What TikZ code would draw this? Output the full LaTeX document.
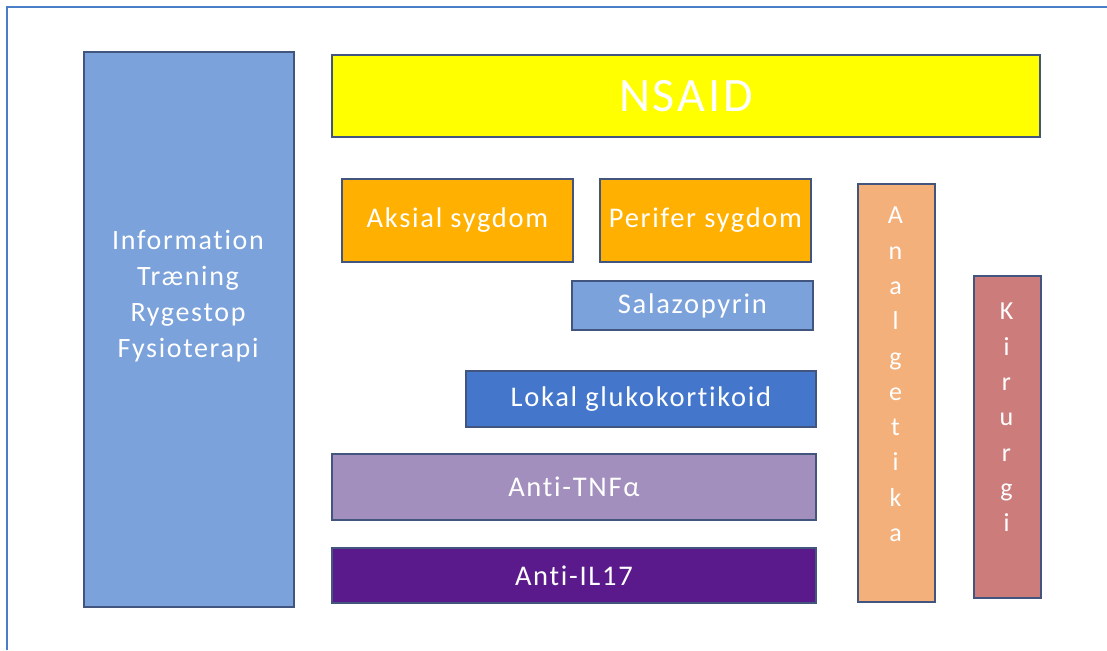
\documentclass[tikz,border=0pt]{standalone}
\usepackage{fontspec}
\setmainfont[LetterSpace=6,Ligatures=NoCommon]{Carlito}
\definecolor{edgeblue}{HTML}{41557F}
\definecolor{framecol}{HTML}{4A7FC8}
\definecolor{infoblue}{HTML}{7BA2DA}
\definecolor{nsaidyel}{HTML}{FFFF00}
\definecolor{amber}{HTML}{FFB000}
\definecolor{lokalblue}{HTML}{4477CC}
\definecolor{tnfpurple}{HTML}{A38FBD}
\definecolor{ilpurple}{HTML}{5B1A8B}
\definecolor{analgorange}{HTML}{F4B07B}
\definecolor{kirred}{HTML}{CD7C7C}
\begin{document}
\begin{tikzpicture}[x=1pt,y=-1pt,
  box/.style={draw=edgeblue, line width=1.8pt, rectangle, anchor=north west,
    inner sep=0pt, text=white, font=\fontsize{28.5}{32}\selectfont},
  label/.style={text=white, inner sep=0pt, align=center},
  vlabel/.style={label, anchor=north, font=\fontsize{26}{35.3}\selectfont}]
  \useasboundingbox (0,0) rectangle (1107,650);
  % open outer frame
  \draw[framecol, line width=1.8pt] (7,650) -- (7,7) -- (1107,7);

  % left column
  \node[box, fill=infoblue, minimum width=210, minimum height=555] (info) at (83,51) {};
  \node[label, anchor=north, font=\fontsize{28}{36}\selectfont] (infotext) at (188,230)
    {Information\\Træning\\Rygestop\\Fysioterapi};

  % top bar
  \node[box, fill=nsaidyel, minimum width=708, minimum height=82,
        font=\fontsize{48}{52}\selectfont] (nsaid) at (331,54) {NSAID};

  % disease type
  \node[box, fill=amber, minimum width=231, minimum height=83] (aksial) at (341,178) {Aksial sygdom};
  \node[box, fill=amber, minimum width=211, minimum height=83] (perifer) at (599,178) {Perifer sygdom};

  % drug rows
  \node[box, fill=infoblue, minimum width=241, minimum height=49] (salazo) at (571,280) {Salazopyrin};
  \node[box, fill=lokalblue, minimum width=350, minimum height=56] (lokal) at (465,370) {Lokal glukokortikoid};
  \node[box, fill=tnfpurple, minimum width=484, minimum height=66] (tnf) at (331,453) {Anti-TNFα};
  \node[box, fill=ilpurple, minimum width=484, minimum height=55] (il17) at (331,547) {Anti-IL17};

  % vertical columns
  \node[box, fill=analgorange, minimum width=77, minimum height=418] (analg) at (857,183) {};
  \node[vlabel] (analgtext) at (895.5,207) {A\\n\\a\\l\\g\\e\\t\\i\\k\\a};
  \node[box, fill=kirred, minimum width=67, minimum height=322] (kir) at (973,275) {};
  \node[vlabel] (kirtext) at (1006.5,303) {K\\i\\r\\u\\r\\g\\i};
\end{tikzpicture}
\end{document}
